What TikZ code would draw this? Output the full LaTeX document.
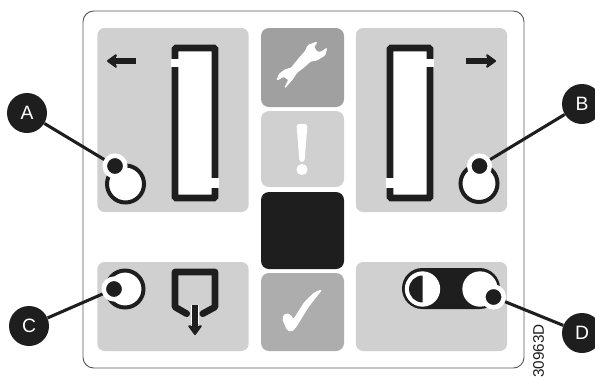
\documentclass[tikz,border=0pt]{standalone}
\usepackage{fontspec}
\setsansfont{Liberation Sans}
\usetikzlibrary{arrows.meta}
\definecolor{ink}{HTML}{1E1E1E}
\definecolor{panelgray}{HTML}{D0D0D0}
\definecolor{wrenchgray}{HTML}{A0A0A0}
\definecolor{checkgray}{HTML}{ADADAD}
\begin{document}
\begin{tikzpicture}[x=0.75pt,y=-0.75pt,every node/.style={inner sep=0pt},
 frame/.style={draw=black!65,line width=0.7pt,rounded corners=8pt,minimum width=330.75pt,minimum height=267.75pt},
 panel/.style={fill=panelgray,rounded corners=5.5pt,minimum width=113.5pt},
 tile/.style={rounded corners=6pt,minimum width=62.25pt},
 bar/.style={draw=ink,fill=white,line width=5pt,rounded corners=0.8pt,minimum width=30pt,minimum height=112.5pt},
 gap/.style={fill=white,minimum width=5.6pt},
 ring/.style={circle,draw=ink,fill=white,line width=3pt,minimum size=27.75pt},
 dot/.style={circle,fill=ink,draw=white,line width=3.4pt,minimum size=15.4pt},
 badge/.style={circle,fill=ink,text=white,minimum size=30pt,font=\sffamily\fontsize{14.5}{16}\selectfont},
 lead/.style={draw=ink,line width=2.3pt},
 glyph/.style={fill=white,draw=white,line width=0.6pt},
 arr/.style={-{Stealth[length=9pt,width=13pt,inset=3pt,round]},draw=ink,line width=4pt}]
\useasboundingbox (0,0) rectangle (595,376);
\fill[white] (0,0) rectangle (595,376);
\node[frame] (fr) at (303.5,189.5) {};
% grey panels
\node[panel,minimum height=138pt] (pl) at (173,120) {};
\node[panel,minimum height=138pt] (pr) at (431.5,120) {};
\node[panel,minimum height=66.75pt] (pc) at (173,306.5) {};
\node[panel,minimum height=66.75pt] (pd) at (431.5,306.5) {};
% middle column
\node[tile,fill=wrenchgray,minimum height=59.25pt] (tw) at (302.5,67.5) {};
\node[tile,fill=panelgray,minimum height=57pt] (te) at (302.5,149) {};
\node[tile,fill=ink,minimum height=57.75pt] (tb) at (302.5,230.5) {};
\node[tile,fill=checkgray,minimum height=58.5pt] (tc) at (302.5,312) {};
\path[glyph,rounded corners=0.8pt] (298.7,58.7)--(305.3,51.3)--(308,45.3)--(317,42)--(313.7,47)--(317,52)--(321.3,52)--(327,48)--(324.7,55.3)--(317,60)--(310.3,61.3)--(303.7,67.3)--(297,72.3)--(292,79.7)--(284.7,88)--(288.7,79.7)--(283.7,76.3)--(277,80.3)--(279.3,74)--(285.3,69.7)--(291.3,68)--cycle;
\fill[white,rounded corners=2pt] (296.5,124)--(307.5,124)--(304.5,162)--(299.5,162)--cycle;
\fill[white] (302,169.5) circle (4.2pt);
\path[glyph,rounded corners=1.5pt] (321.7,289.7)--(308.3,306.7)--(295,328.3)--(291,331.7)--(287.3,330)--(282.3,318.3)--(285.7,313.3)--(290.7,315)--(293.3,320)--(305,301.7)--(315,292.3)--cycle;
% level bars
\node[bar] (bl) at (195,123) {};
\node[gap,minimum height=6pt] (gl1) at (175,63) {};
\node[gap,minimum height=7.5pt] (gl2) at (215,183) {};
\node[bar] (br) at (410,123) {};
\node[gap,minimum height=6pt] (gr1) at (430,63) {};
\node[gap,minimum height=7.5pt] (gr2) at (390,183) {};
\draw[arr] (136,61)--(107,61);
\draw[arr] (466,61)--(496,61);
% rings
\node[ring] (rl) at (125.5,184) {};
\node[ring] (rr) at (479,183.5) {};
\node[ring] (rc) at (125,289) {};
% tap icon
\draw[ink,line width=5pt,line cap=round,line join=round] (186.7,313.7)--(175,307)--(175,272)--(215,272)--(215,307)--(202.7,313.7);
\draw[white,line width=6.5pt] (195,305)--(195,324);
\draw[arr] (195,305)--(195,335);
% two-state switch
\node[fill=ink,rounded corners=15.3pt,minimum width=73.5pt,minimum height=30.75pt] (sw) at (451,288.5) {};
\node[circle,fill=white,minimum size=26.5pt] (ds) at (422.5,289) {};
\fill[ink] (422.5,275.5) arc[start angle=90,end angle=270,radius=10.1pt] --cycle;
\node[circle,fill=white,minimum size=26.5pt] (ss) at (480,289) {};
% callouts
\node[dot] (dA) at (115,166) {};
\node[dot] (dB) at (479.5,166) {};
\node[dot] (dC) at (114,289) {};
\node[dot] (dD) at (493.5,297) {};
\node[badge] (A) at (27,113) {A};
\node[badge] (B) at (582,104) {B};
\node[badge] (C) at (29,326) {C};
\node[badge] (D) at (582,333) {D};
\draw[lead] (A)--(dA);
\draw[lead] (B)--(dB);
\draw[lead] (C)--(dC);
\draw[lead] (D)--(dD);
\node[rotate=90,text=ink,font=\sffamily\fontsize{11.5}{13}\selectfont] (code) at (538.5,351) {30963D};
\end{tikzpicture}
\end{document}
